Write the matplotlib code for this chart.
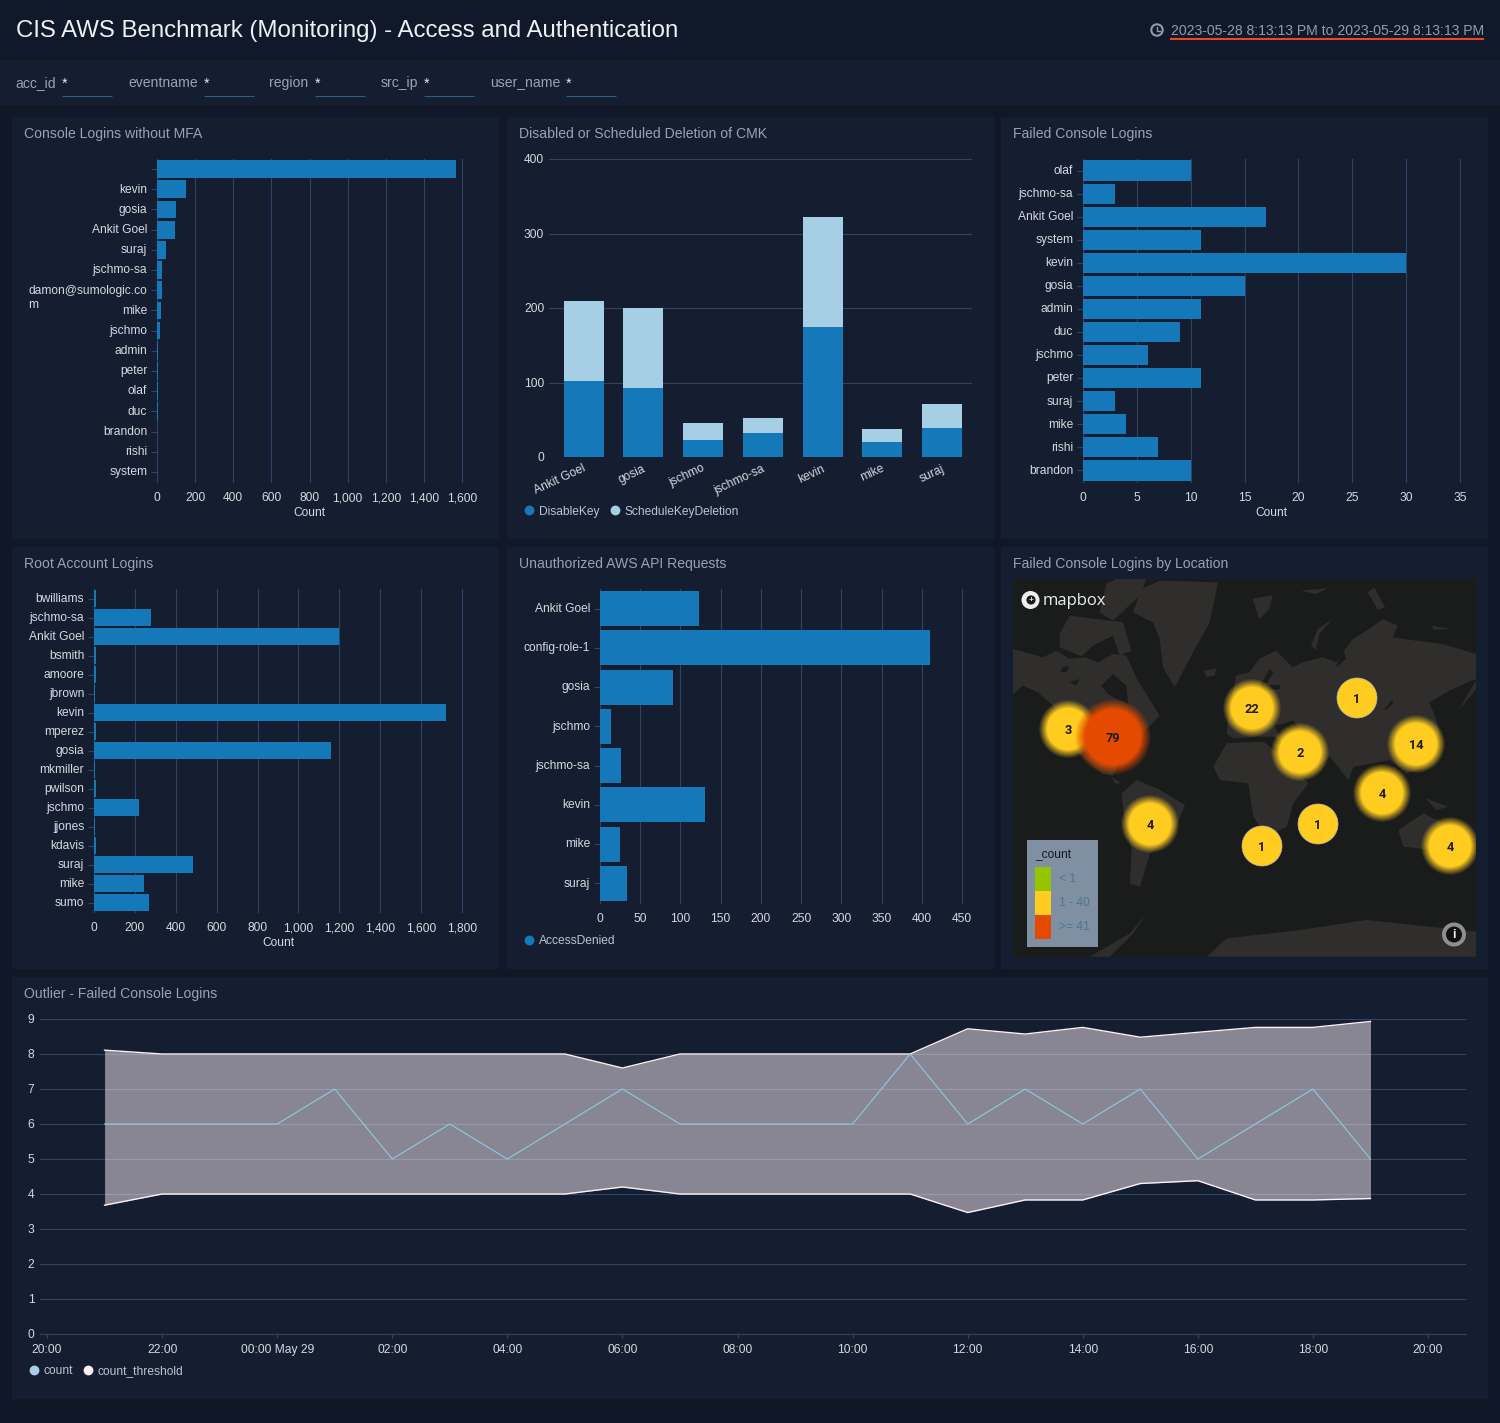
import matplotlib
matplotlib.use("Agg")
import matplotlib.pyplot as plt
from matplotlib.patches import Rectangle, Polygon, Circle
from matplotlib.transforms import Affine2D

plt.rcParams['font.family'] = ['Liberation Sans', 'DejaVu Sans']

# ---------- data ----------
mfa_users = ["", "kevin", "gosia", "Ankit Goel", "suraj", "jschmo-sa", "damon@sumologic.co", "mike",
             "jschmo", "admin", "peter", "olaf", "duc", "brandon", "rishi", "system"]
mfa_counts = [1570, 150, 100, 95, 45, 28, 25, 22, 15, 5, 4, 3, 3, 2, 2, 1]

cmk_users = ["Ankit Goel", "gosia", "jschmo", "jschmo-sa", "kevin", "mike", "suraj"]
cmk_disable = [102, 92, 23, 32, 175, 20, 39]
cmk_schedule = [108, 108, 23, 20, 147, 18, 32]

failed_users = ["olaf", "jschmo-sa", "Ankit Goel", "system", "kevin", "gosia", "admin", "duc", "jschmo",
                "peter", "suraj", "mike", "rishi", "brandon"]
failed_counts = [10, 3, 17, 11, 30, 15, 11, 9, 6, 11, 3, 4, 7, 10]

root_users = ["bwilliams", "jschmo-sa", "Ankit Goel", "bsmith", "amoore", "jbrown", "kevin", "mperez", "gosia",
              "mkmiller", "pwilson", "jschmo", "jjones", "kdavis", "suraj", "mike", "sumo"]
root_counts = [12, 280, 1200, 10, 8, 3, 1722, 8, 1160, 4, 10, 220, 5, 8, 483, 245, 268]

api_users = ["Ankit Goel", "config-role-1", "gosia", "jschmo", "jschmo-sa", "kevin", "mike", "suraj"]
api_counts = [123, 410, 91, 14, 26, 130, 25, 34]

geo_x = [1068, 1113, 1252, 1300, 1357, 1416, 1382, 1150, 1262, 1318, 1450]
geo_y = [729, 737, 708, 752, 698, 744, 793, 824, 846, 824, 846]
geo_counts = [3, 79, 22, 2, 1, 14, 4, 4, 1, 1, 4]

hours = list(range(1, 24))
outlier_count = [6, 6, 6, 6, 7, 5, 6, 5, 6, 7, 6, 6, 6, 6, 8, 6, 7, 6, 7, 5, 6, 7, 5]
outlier_upper = [8.11, 8, 8, 8, 8, 8, 8, 8, 8, 7.6, 8, 8, 8, 8, 8, 8.72, 8.57, 8.76, 8.48, 8.62, 8.76, 8.76, 8.93]
outlier_lower = [3.68, 4, 4, 4, 4, 4, 4, 4, 4, 4.2, 4, 4, 4, 4, 4, 3.47, 3.83, 3.83, 4.3, 4.38, 3.83, 3.83, 3.87]
hour_ticks = list(range(0, 25, 2))
hour_labels = ["20:00", "22:00", "00:00 May 29", "02:00", "04:00", "06:00", "08:00", "10:00", "12:00", "14:00",
               "16:00", "18:00", "20:00"]

filters = [("acc_id", 15.5, 62), ("eventname", 128, 204), ("region", 269.5, 315), ("src_ip", 380.5, 424),
           ("user_name", 490, 566)]

# ---------- colours ----------
PAGE = "#101827"
HEAD = "#10192a"
PANEL = "#141e30"
GRID = "#2f4465"
BAR = "#1578b8"
LIGHT = "#a6cfe5"
TXT = "#d3d9df"
TITLE = "#93a4b4"

W, H = 1500, 1423
fig = plt.figure(figsize=(W / 100, H / 100), dpi=100, facecolor=PAGE)

bg = fig.add_axes([0, 0, 1, 1], zorder=0)
bg.set_xlim(0, W)
bg.set_ylim(H, 0)
bg.axis("off")


def box(x0, y0, x1, y1, c, ax=bg, z=1):
    ax.add_patch(Rectangle((x0, y0), x1 - x0, y1 - y0, fc=c, ec="none", zorder=z))


def axes_px(x0, y0, x1, y1, z=2):
    ax = fig.add_axes([x0 / W, 1 - y1 / H, (x1 - x0) / W, (y1 - y0) / H], zorder=z)
    ax.patch.set_alpha(0)
    for s in ax.spines.values():
        s.set_visible(False)
    return ax


def lift_yticklabels(ax, dy):
    for lab in ax.get_yticklabels():
        lab.set_transform(lab.get_transform() + Affine2D().translate(0, dy))


def baseline_xticklabels(ax):
    for lab in ax.get_xticklabels():
        lab.set_verticalalignment("baseline")


box(0, 0, W, 60, HEAD)
box(0, 60, W, 105, PANEL)
bg.text(16, 37, "CIS AWS Benchmark (Monitoring) - Access and Authentication", fontsize=17.28, color="#eef1f4",
        va="baseline", ha="left")

bg.add_patch(Circle((1157, 30), 5.7, fc="none", ec="#8c9db0", lw=1.5, zorder=3))
bg.plot([1157, 1157, 1160], [26.5, 30.5, 30.5], color="#8c9db0", lw=1, zorder=3)
bg.text(1484, 35, "2023-05-28 8:13:13 PM to 2023-05-29 8:13:13 PM", fontsize=10.1, color="#8c9db0", va="baseline",
        ha="right")
bg.plot([1170, 1484], [39, 39], color="#f0451f", lw=1.5, zorder=3, solid_capstyle="butt")

for name, xl, xv in filters:
    bg.text(xl, 87, name, fontsize=10.1, color=TITLE, va="baseline", ha="left")
    bg.text(xv, 88, "*", fontsize=10.1, color="#e6eaee", va="baseline", ha="left")
    bg.plot([xv, xv + 50], [96, 96], color="#2a5f86", lw=0.8, zorder=3, solid_capstyle="butt")

panels = [(12, 117, 499, 539, "Console Logins without MFA"),
          (507, 117, 994, 539, "Disabled or Scheduled Deletion of CMK"),
          (1001, 117, 1488, 539, "Failed Console Logins"),
          (12, 547, 499, 969, "Root Account Logins"),
          (507, 547, 994, 969, "Unauthorized AWS API Requests"),
          (1001, 547, 1488, 969, "Failed Console Logins by Location"),
          (12, 977, 1488, 1399, "Outlier - Failed Console Logins")]
for x0, y0, x1, y1, t in panels:
    box(x0, y0, x1, y1, PANEL)
    bg.text(x0 + 12, y0 + 21, t, fontsize=10.1, color=TITLE, va="baseline", ha="left")


def hbar(rect, labels, vals, xmax, step, bar_frac, xlabel_px=None):
    x0, y0, x1, y1 = rect
    ax = axes_px(x0, y0, x1, y1)
    pos = list(range(len(labels)))
    ax.barh(pos, vals, height=bar_frac, color=BAR, zorder=3)
    ax.set_ylim(len(labels) - 0.5, -0.5)
    ax.set_xlim(0, xmax)
    ax.set_yticks(pos)
    ax.set_yticklabels(labels)
    ticks = [step * i for i in range(int(xmax / step + 1e-6) + 1)]
    ax.set_xticks(ticks)
    ax.set_xticklabels([f"{t:,}" for t in ticks])
    ax.grid(axis="x", color=GRID, lw=0.8, zorder=1)
    for g in ax.get_xgridlines():
        g.set_clip_on(False)
    ax.tick_params(axis="y", length=4, width=0.8, color=GRID, labelcolor=TXT, labelsize=8.65, pad=3)
    ax.tick_params(axis="x", length=0, labelcolor=TXT, labelsize=8.65, pad=14)
    baseline_xticklabels(ax)
    lift_yticklabels(ax, 1.2)
    if xlabel_px:
        bg.text(xlabel_px[0], xlabel_px[1] + 4.5, "Count", fontsize=8.65, color=TXT, ha="center", va="baseline")
    return ax


hbar((157, 159, 462, 482), mfa_users, mfa_counts, 1600, 200, 0.88, (309, 511))
# the wrapped tail of the long user name, as the reference shows it
bg.text(28, 308.5, "m", fontsize=8.65, color=TXT, ha="left", va="baseline")
hbar((1083, 159, 1460, 482), failed_users, failed_counts, 35, 5, 0.87, (1271, 511))
hbar((94, 589, 462, 912), root_users, root_counts, 1800, 200, 0.88, (278, 941))
ax5 = hbar((600, 589, 962, 903), api_users, api_counts, 450, 50, 0.89)

# stacked column chart
ax2 = axes_px(549, 159, 972, 457)
cpos = list(range(len(cmk_users)))
ax2.bar(cpos, cmk_disable, width=0.67, color=BAR, zorder=3)
ax2.bar(cpos, cmk_schedule, width=0.67, bottom=cmk_disable, color=LIGHT, zorder=3)
ax2.set_xlim(-0.58, 6.5)
ax2.set_ylim(0, 400)
ax2.set_yticks([0, 100, 200, 300, 400])
ax2.grid(axis="y", color=GRID, lw=0.8, zorder=1)
ax2.tick_params(axis="y", length=0, labelcolor=TXT, labelsize=8.65, pad=3.5)
lift_yticklabels(ax2, 0.4)
ax2.set_xticks(cpos)
ax2.set_xticklabels(cmk_users, rotation=25, ha="right", rotation_mode="anchor")
ax2.tick_params(axis="x", length=0, labelcolor=TXT, labelsize=8.65, pad=4)
for lab in ax2.get_xticklabels():
    lab.set_transform(lab.get_transform() + Affine2D().translate(-1, 0))


def legend_items(items, y):
    for cx, tx, c, t in items:
        bg.scatter([cx], [y], s=50, color=c, zorder=3, linewidths=0)
        bg.text(tx, y + 4.5, t, fontsize=8.65, color="#b9c4ce", va="baseline", ha="left")


legend_items([(529, 539, BAR, "DisableKey"), (615, 625, LIGHT, "ScheduleKeyDeletion")], 510)
legend_items([(529, 539, BAR, "AccessDenied")], 940)
legend_items([(34, 44, LIGHT, "count"), (88, 98, "#fdeef3", "count_threshold")], 1370)

# ---------- map ----------
mx = axes_px(1013, 579, 1476, 957, z=2)
mx.set_xlim(1013, 1476)
mx.set_ylim(957, 579)
mx.set_xticks([])
mx.set_yticks([])
mx.patch.set_alpha(1)
mx.set_facecolor("#1a1c1c")
LAND = "#2f2e2d"
SEA = "#1a1c1c"


def poly(pts, ox, oy, c=LAND, z=1):
    mx.add_patch(Polygon([(ox + x / 3, oy + y / 3) for x, y in pts], closed=True, fc=c, ec="none", zorder=z))


def zp(pts, c=LAND, z=1):
    poly(pts, 1000, 570, c, z)


def ap(pts, c=LAND, z=1):
    poly(pts, 1013, 579, c, z)


def bp(pts, c=LAND, z=1):
    poly(pts, 1236, 579, c, z)


# North America
ap([(0, 210), (90, 235), (130, 215), (170, 240), (215, 235), (255, 250), (300, 225), (340, 230), (372, 300),
    (400, 345), (440, 410), (410, 440), (385, 470), (330, 520), (300, 590), (270, 585), (215, 540), (175, 500),
    (125, 385), (75, 340), (30, 320), (0, 345)])
ap([(265, 320), (300, 285), (340, 320), (345, 375), (310, 360), (285, 345)], SEA, 2)
ap([(140, 165), (170, 110), (330, 130), (355, 215), (320, 230), (300, 170), (240, 200), (205, 232), (140, 205)])
ap([(280, 15), (310, 0), (400, 0), (380, 50), (300, 125), (260, 100)])
ap([(150, 265), (168, 260), (160, 280), (140, 278)], SEA, 2)
ap([(170, 310), (200, 300), (190, 320)], SEA, 2)
# Greenland, Iceland
ap([(385, 30), (440, 5), (615, 10), (590, 130), (540, 220), (485, 325), (450, 265), (440, 180), (420, 130), (360, 100)])
ap([(573, 275), (610, 268), (605, 290), (580, 293)])
# Central + South America
zp([(335, 620), (365, 640), (345, 640)])
zp([(365, 670), (410, 630), (480, 660), (555, 705), (520, 790), (450, 850), (420, 950), (390, 940), (395, 840),
    (370, 720)])
# Africa
zp([(640, 590), (680, 520), (790, 515), (860, 570), (925, 640), (880, 700), (860, 770), (800, 800), (760, 740),
    (745, 640), (660, 630)])
# Eurasia
poly_eurasia = [(1236 + x / 3, 579 + y / 3) for x, y in
                [(0, 290), (40, 280), (70, 240), (120, 215), (170, 265), (200, 250), (260, 235), (300, 250),
                 (350, 180), (400, 150), (440, 120), (485, 140), (470, 175), (540, 185), (620, 195), (720, 225),
                 (720, 300), (690, 312), (640, 335), (580, 370), (600, 420), (610, 460), (590, 520), (545, 570)]]
poly_eurasia += [(1000 + x / 3, 570 + y / 3) for x, y in
                 [(1220, 610), (1170, 570), (1060, 590), (1045, 630), (990, 560), (910, 620), (860, 520), (820, 500),
                  (770, 500), (700, 505), (680, 490), (685, 440)]]
mx.add_patch(Polygon(poly_eurasia, closed=True, fc=LAND, ec="none", zorder=1))
bp([(100, 270), (112, 280), (90, 318), (130, 318), (135, 330), (85, 335), (74, 318)], SEA, 2)
bp([(115, 440), (170, 425), (190, 445), (130, 472)], SEA, 2)
bp([(445, 390), (470, 360), (470, 375), (450, 392)], SEA, 2)
bp([(300, 265), (320, 200), (330, 240)], SEA, 2)
# Arctic islands, Japan, etc.
bp([(225, 200), (245, 150), (290, 120), (250, 165), (240, 212)])
bp([(50, 60), (110, 48), (100, 90), (70, 120)])
bp([(195, 35), (275, 28), (240, 45)])
bp([(395, 40), (415, 25), (447, 85), (425, 92)])
bp([(590, 140), (640, 150), (590, 152)])
bp([(670, 390), (720, 305), (720, 330), (680, 380)])
# Australia, Antarctica and smaller islands
zp([(1195, 780), (1270, 730), (1330, 760), (1370, 840), (1300, 840), (1210, 830)])
zp([(620, 1160), (680, 1105), (900, 1080), (1100, 1050), (1428, 1085), (1428, 1160)])
zp([(270, 1160), (330, 1160), (400, 1090), (440, 1030), (390, 1090)])
zp([(840, 690), (860, 670), (855, 710), (835, 730)])
zp([(1275, 685), (1345, 710), (1310, 720)])
zp([(1120, 640), (1200, 700), (1170, 710)])

for x, y, n in zip(geo_x, geo_y, geo_counts):
    col = "#e54b00" if n >= 41 else "#ffcc1f"
    if n > 1:
        outer = 38 if n >= 41 else 29
        inner = 28 if n >= 41 else 21
        steps = 14
        for i in range(steps):
            rr = outer - (outer - inner) * i / (steps - 1)
            mx.add_patch(Circle((x, y), rr, fc=col, ec="none", alpha=1 / (steps - i), zorder=4))
    else:
        mx.add_patch(Circle((x, y), 20, fc=col, ec="#b8b8b0", lw=0.5, zorder=5))
    mx.text(x, y + 1, str(n), fontsize=9.2, fontweight="bold", color="#1b1b1b", ha="center", va="center", zorder=6,
            family=["Roboto", "DejaVu Sans"])

# mapbox logo
mx.add_patch(Circle((1030.5, 600), 9, fc="#eeeeee", ec="none", zorder=6))
mx.add_patch(Circle((1031, 600), 4.6, fc="#1a1c1c", ec="none", zorder=7))
mx.text(1031, 600, "+", fontsize=6, color="#eeeeee", fontweight="bold", ha="center", va="center", zorder=8)
mx.text(1043, 600.5, "mapbox", fontsize=12, color="#ececec", ha="left", va="center", zorder=6,
        family=["Open Sans", "DejaVu Sans"])

# info button
mx.add_patch(Circle((1454, 934.5), 12, fc="#8f8f8f", ec="none", zorder=6))
mx.add_patch(Circle((1454, 934.5), 8, fc="#111111", ec="none", zorder=7))
mx.text(1454, 935, "i", fontsize=9, fontweight="bold", color="#eeeeee", ha="center", va="center", zorder=8)

# map legend
legend_box = (1027, 840, 1098, 947)
box(*legend_box, "#7e90a2", ax=mx, z=6)
mx.text(1035, 855, "_count", fontsize=8.65, color="#14181c", va="center", ha="left", zorder=7)
for y0, y1, c, t in [(867, 891, "#95c400", "< 1"), (891, 915, "#ffcc1f", "1 - 40"), (915, 939, "#e54b00", ">= 41")]:
    box(1035, y0, 1051, y1, c, ax=mx, z=7)
    mx.text(1059, (y0 + y1) / 2, t, fontsize=8.65, color="#4f7596", va="center", ha="left", zorder=7)

# ---------- outlier chart ----------
ax7 = axes_px(40, 1019, 1466, 1334)
ax7.set_xlim(-0.122, 24.66)
ax7.set_ylim(0, 9)
ax7.set_yticks(range(10))
ax7.grid(axis="y", color=GRID, lw=0.8, zorder=1)
ax7.fill_between(hours, outlier_lower, outlier_upper, color="#ffeef8", alpha=0.5, lw=0, zorder=3)
ax7.plot(hours, outlier_upper, color="#fdeef3", lw=1, zorder=4)
ax7.plot(hours, outlier_lower, color="#fdeef3", lw=1, zorder=4)
ax7.plot(hours, outlier_count, color="#8fc9e0", lw=0.8, zorder=5)
ax7.set_xticks(hour_ticks)
ax7.set_xticklabels(hour_labels)
ax7.tick_params(axis="y", length=0, labelcolor=TXT, labelsize=8.65, pad=4)
ax7.tick_params(axis="x", length=3, width=0.8, color=GRID, labelcolor=TXT, labelsize=8.65, pad=11)
baseline_xticklabels(ax7)
lift_yticklabels(ax7, 0.4)
ax7.spines["bottom"].set_visible(True)
ax7.spines["bottom"].set_color(GRID)
ax7.spines["bottom"].set_linewidth(0.8)

fig.savefig("out.png", dpi=100, facecolor=PAGE)
